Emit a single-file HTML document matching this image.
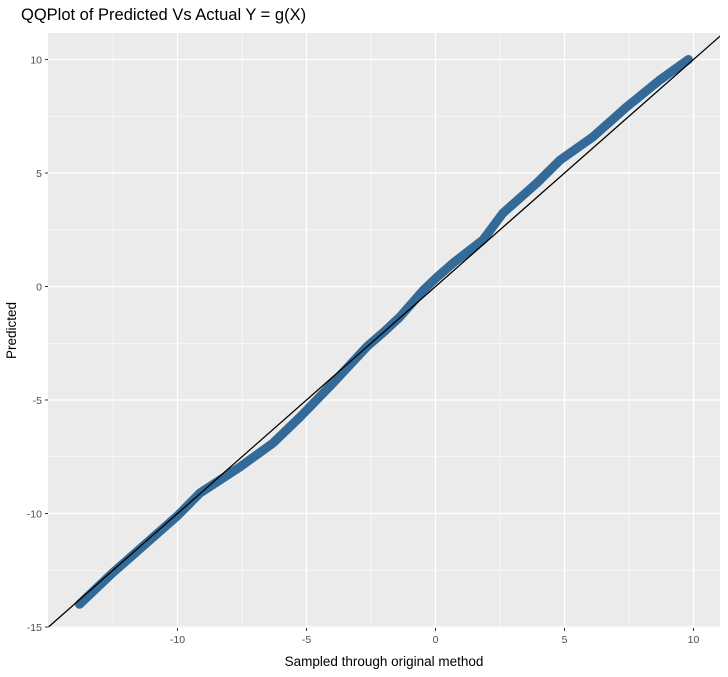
<!DOCTYPE html>
<html><head><meta charset="utf-8"><style>
body{margin:0;background:#fff;width:728px;height:672px;overflow:hidden}
svg{font-family:"Liberation Sans",sans-serif}
</style></head><body>
<svg id="chart" width="728" height="672" viewBox="0 0 728 672" xmlns="http://www.w3.org/2000/svg"></svg>
<script>
const xTicks=[-10,-5,0,5,10];
const yTicks=[-15,-10,-5,0,5,10];
const sampleX=[-13.8,-12.5,-11,-10,-9.13,-7.58,-6.3,-5.25,-3.97,-2.66,-2.0,-1.38,-0.5,0,0.68,1.84,2.62,3.93,4.83,6.1,7.4,8.7,9.8];
const predictedY=[-14.0,-12.6,-11.1,-10.1,-9.1,-7.95,-6.9,-5.75,-4.25,-2.65,-2.0,-1.34,-0.2,0.35,1.03,2.05,3.24,4.56,5.57,6.59,7.9,9.1,10.0];
const L=48,R=720,T=33,B=628;
const x=v=>435.5+v*25.8;
const y=v=>286.5-v*22.7;
const svg=document.getElementById('chart');
const NS='http://www.w3.org/2000/svg';
function mk(tag,attrs,parent){const e=document.createElementNS(NS,tag);for(const k in attrs)e.setAttribute(k,attrs[k]);(parent||svg).appendChild(e);return e;}
const bg=mk('rect',{x:L,y:T,width:R-L,height:B-T,fill:'#ebebeb'});


[-12.5,-7.5,-2.5,2.5,7.5].forEach(m=>{const l=mk('line',{x1:x(m),x2:x(m),y1:T,y2:B,stroke:'#fff','stroke-width':0.6});});
[-12.5,-7.5,-2.5,2.5,7.5].forEach(m=>{const l=mk('line',{x1:L,x2:R,y1:y(m),y2:y(m),stroke:'#fff','stroke-width':0.6});});
xTicks.forEach(v=>{const l=mk('line',{x1:x(v),x2:x(v),y1:T,y2:B,stroke:'#fff','stroke-width':1.2});
mk('line',{x1:x(v),x2:x(v),y1:B,y2:B+3,stroke:'#333','stroke-width':1});
const tx=mk('text',{x:x(v),y:B+15,'text-anchor':'middle','font-size':10.5,fill:'#4d4d4d'});tx.textContent=v;});
yTicks.forEach(v=>{const l=mk('line',{x1:L,x2:R,y1:y(v),y2:y(v),stroke:'#fff','stroke-width':1.2});
mk('line',{x1:L-3,x2:L,y1:y(v),y2:y(v),stroke:'#333','stroke-width':1});
const tx=mk('text',{x:L-6,y:y(v)+4,'text-anchor':'end','font-size':10.5,fill:'#4d4d4d'});tx.textContent=v;});
let d='';sampleX.forEach((v,i)=>{d+=(i?'L':'M')+x(v)+','+y(predictedY[i]);});
const p=mk('path',{d:d,fill:'none',stroke:'#336a98','stroke-width':9,'stroke-linecap':'round','stroke-linejoin':'round'});


const cp=mk('clipPath',{id:'clp'});mk('rect',{x:L,y:T,width:R-L,height:B-T},cp);
const ref=mk('line',{x1:x(-15),y1:y(-15),x2:x(12),y2:y(12),stroke:'#000','stroke-width':1.3,'clip-path':'url(#clp)'});


const title=mk('text',{x:21,y:20,'font-size':16.5,fill:'#000'});title.textContent='QQPlot of Predicted Vs Actual Y = g(X)';

const xt=mk('text',{x:(L+R)/2,y:666,'text-anchor':'middle','font-size':13.5,fill:'#000'});xt.textContent='Sampled through original method';

const yt=mk('text',{x:16,y:(T+B)/2,'text-anchor':'middle','font-size':13.5,fill:'#000',transform:'rotate(-90 16 '+((T+B)/2)+')'});yt.textContent='Predicted';

</script>
</body></html>
